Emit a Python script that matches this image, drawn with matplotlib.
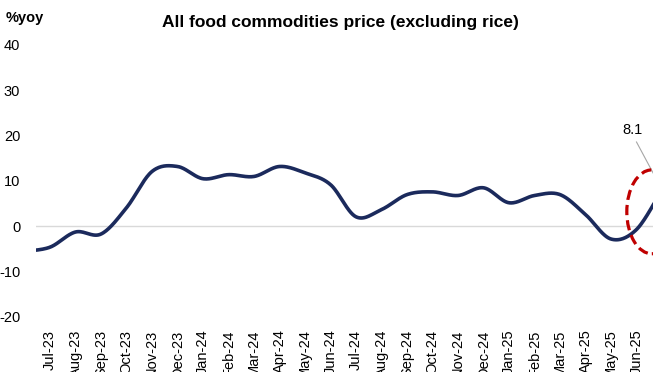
import numpy as np
import matplotlib
matplotlib.use("Agg")
import matplotlib.pyplot as plt
from matplotlib.patches import Ellipse

# Monthly year-on-year change, all food commodities excluding rice
months = ["Jun-23", "Jul-23", "Aug-23", "Sep-23", "Oct-23", "Nov-23", "Dec-23",
          "Jan-24", "Feb-24", "Mar-24", "Apr-24", "May-24", "Jun-24", "Jul-24",
          "Aug-24", "Sep-24", "Oct-24", "Nov-24", "Dec-24", "Jan-25", "Feb-25",
          "Mar-25", "Apr-25", "May-25", "Jun-25", "Jul-25"]
values = [-5.5, -4.6, -1.25, -1.7, 4.1, 12.1, 13.2, 10.5, 11.4, 11.0, 13.2,
          11.8, 9.2, 2.1, 3.7, 7.0, 7.6, 6.8, 8.5, 5.2, 6.8, 7.0, 2.6, -2.8,
          -0.7, 8.1]
y_ticks = [-20, -10, 0, 10, 20, 30, 40]

plt.rcParams["font.family"] = ["Liberation Sans", "DejaVu Sans"]

W, H = 653, 372
fig = plt.figure(figsize=(W / 100, H / 100), dpi=100)

# plot area in pixels: left edge 35.5, bottom 317, top 45, 25.5 px per month
px_per_month = 25.5
x_first = 50.0            # pixel position of Jul-23
xlim = (-(x_first - 35.5) / px_per_month, 24.6)
left = 35.5 / W
width = (xlim[1] - xlim[0]) * px_per_month / W
bottom = (H - 317) / H
height = (317 - 45) / H
ax = fig.add_axes([left, bottom, width, height])

x = np.arange(len(values)) - 1  # Jul-23 sits at 0


def smooth_curve(xs, ys, n=30):
    """Catmull-Rom style Bezier smoothing through every point."""
    P = np.column_stack([xs, ys]).astype(float)
    out = []
    for i in range(len(P) - 1):
        p0 = P[i - 1] if i > 0 else P[i]
        p1 = P[i]
        p2 = P[i + 1]
        p3 = P[i + 2] if i + 2 < len(P) else P[i + 1]
        c1 = p1 + (p2 - p0) / 6.0
        c2 = p2 - (p3 - p1) / 6.0
        t = np.linspace(0, 1, n, endpoint=(i == len(P) - 2))[:, None]
        seg = ((1 - t) ** 3) * p1 + 3 * ((1 - t) ** 2) * t * c1 \
            + 3 * (1 - t) * t ** 2 * c2 + t ** 3 * p2
        out.append(seg)
    out = np.vstack(out)
    return out[:, 0], out[:, 1]


ax.axhline(0, color="#D9D9D9", lw=1.0, zorder=1)
sx, sy = smooth_curve(x, values)
ax.plot(sx, sy, color="#1B2A5C", lw=2.6, solid_capstyle="round", zorder=3)

ax.set_yticks(y_ticks)
ax.set_yticklabels([str(v) for v in y_ticks])
ax.set_xticks(x)
ax.set_xticklabels(months, rotation=90, va="top", ha="center")
ax.set_xlim(*xlim)
ax.set_ylim(-20, 40)
ax.tick_params(axis="y", length=0, pad=11, labelsize=10.5, labelcolor="#000000")
ax.tick_params(axis="x", length=0, pad=9, labelsize=10.5, labelcolor="#000000")
for s in ax.spines.values():
    s.set_visible(False)

# highlight the latest reading
last_x, last_v = x[-1], values[-1]
ax.add_patch(Ellipse((23.6, 3.2), width=1.96, height=18.5, fill=False,
                     ec="#C00000", lw=2.3, ls=(0, (3.2, 1.6)), zorder=4))
ax.plot([23.0, last_x], [18.6, last_v], color="#A6A6A6", lw=0.8, zorder=2)
ax.text(22.86, 21.3, f"{last_v:.1f}", ha="center", va="center", fontsize=10.5)

fig.text(340 / W, 1 - 23 / H, "All food commodities price (excluding rice)",
         ha="center", va="center", fontsize=12.5, fontweight="bold")
fig.text(25 / W, 1 - 18 / H, "%yoy", ha="center", va="center",
         fontsize=10.5, fontweight="bold")

fig.savefig("out.png", dpi=100)
